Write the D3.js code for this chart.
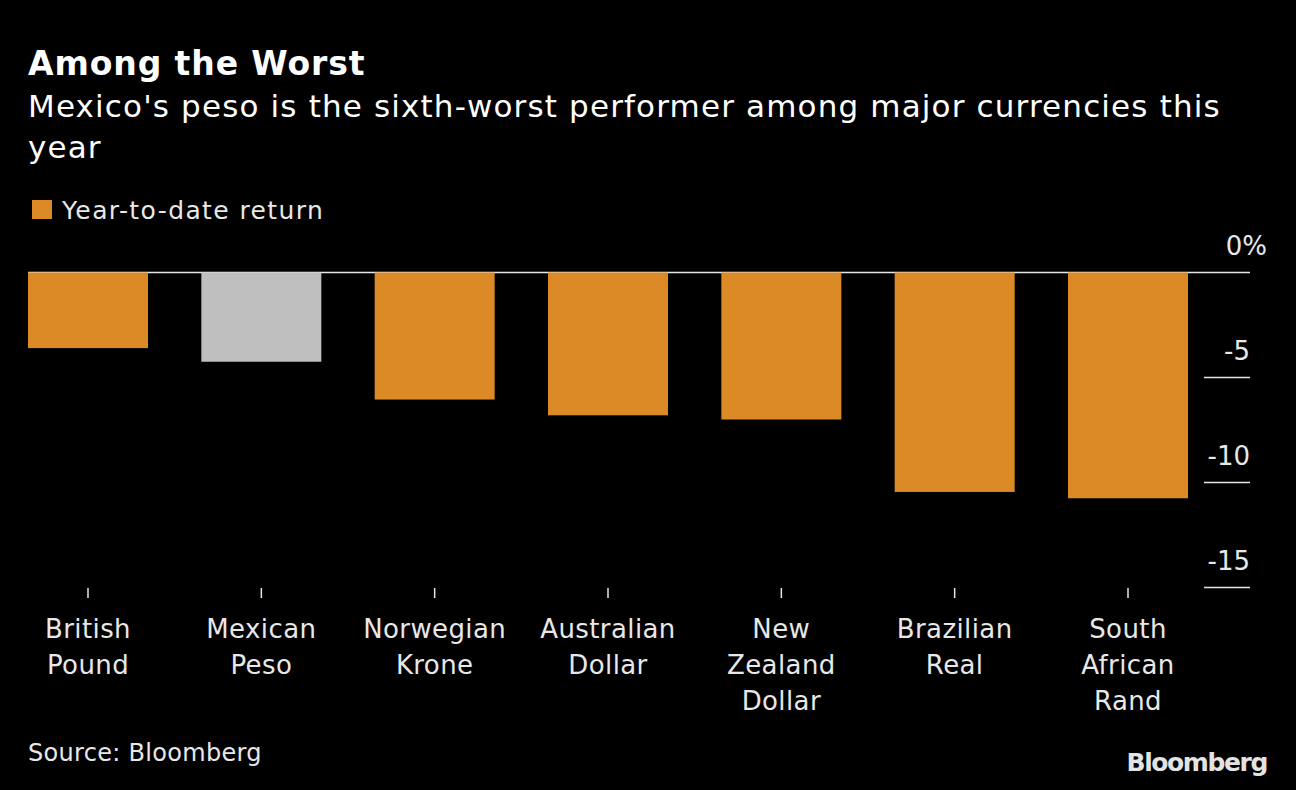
<!DOCTYPE html>
<html>
<head>
<meta charset="utf-8">
<script src="https://cdn.jsdelivr.net/npm/d3@7"></script>
<style>
  html, body { margin: 0; padding: 0; background: #000; }
  svg { display: block; }
  text { font-family: "DejaVu Sans", Verdana, sans-serif; }
</style>
</head>
<body>
<svg id="chart" width="1296" height="790"></svg>
<script>
const categories = [
  ["British", "Pound"],
  ["Mexican", "Peso"],
  ["Norwegian", "Krone"],
  ["Australian", "Dollar"],
  ["New", "Zealand", "Dollar"],
  ["Brazilian", "Real"],
  ["South", "African", "Rand"]
];
const values = [-3.6, -4.25, -6.05, -6.8, -7.0, -10.45, -10.75];
const highlight = [false, true, false, false, false, false, false];
const yTicks = [0, -5, -10, -15];
const legendLabel = "Year-to-date return";

const svg = d3.select("#chart");
const W = 1296, H = 790;
svg.append("rect").attr("width", W).attr("height", H).attr("fill", "#000");

const orange = "#dc8a25", gray = "#bfbfbf", txt = "#e8e8e8";

// Titles
svg.append("text").attr("x", 28).attr("y", 75)
  .attr("font-size", 33).attr("font-weight", "bold").attr("fill", "#fff")
  .attr("letter-spacing", 0.9)
  .text("Among the Worst");
svg.append("text").attr("x", 28).attr("y", 117)
  .attr("font-size", 31).attr("fill", "#fff").attr("letter-spacing", 1.15)
  .text("Mexico's peso is the sixth-worst performer among major currencies this");
svg.append("text").attr("x", 28).attr("y", 158)
  .attr("font-size", 31).attr("fill", "#fff").attr("letter-spacing", 1.15)
  .text("year");

// Legend
svg.append("rect").attr("x", 32).attr("y", 200).attr("width", 20).attr("height", 19).attr("fill", orange);
svg.append("text").attr("x", 62).attr("y", 219)
  .attr("font-size", 25).attr("fill", txt).attr("letter-spacing", 1.4).text(legendLabel);

// Scales
const idx = d3.range(categories.length);
const x = d3.scaleBand().domain(idx).range([28, 1188]).paddingInner(0.3077).paddingOuter(0);
const y = d3.scaleLinear().domain([0, -15]).range([272.5, 587.5]);

// Zero line and right-side tick marks
const tickG = svg.append("g");
yTicks.forEach(t => {
  const yy = y(t);
  tickG.append("line")
    .attr("x1", t === 0 ? 28 : 1204).attr("x2", 1250)
    .attr("y1", yy).attr("y2", yy)
    .attr("stroke", "#e6e6e6").attr("stroke-width", 1.5);
});

// Bars
svg.append("g").selectAll("rect").data(values).join("rect")
  .attr("x", (d, i) => x(i))
  .attr("width", x.bandwidth())
  .attr("y", d => y(0))
  .attr("height", d => y(d) - y(0))
  .attr("fill", (d, i) => highlight[i] ? gray : orange);

// Tick labels
yTicks.forEach(t => {
  const yy = y(t) - 18;
  svg.append("text").attr("x", t === 0 ? 1267 : 1250).attr("y", yy)
    .attr("font-size", 26).attr("fill", txt)
    .attr("text-anchor", "end").text(t === 0 ? "0%" : t);
});

// X axis ticks & labels
const xa = svg.append("g");
idx.forEach(i => {
  const cx = x(i) + x.bandwidth() / 2;
  xa.append("line").attr("x1", cx).attr("x2", cx).attr("y1", 588).attr("y2", 598)
    .attr("stroke", "#e6e6e6").attr("stroke-width", 1.5);
  const t = xa.append("text").attr("x", cx).attr("y", 638).attr("text-anchor", "middle")
    .attr("font-size", 26).attr("fill", txt).attr("letter-spacing", 0.4);
  categories[i].forEach((line, k) => {
    t.append("tspan").attr("x", cx).attr("y", 638 + k * 36).text(line);
  });
});

// Source
svg.append("text").attr("x", 28).attr("y", 761).attr("font-size", 24).attr("fill", txt)
  .attr("letter-spacing", 0.3)
  .text("Source: Bloomberg");

// Logo
svg.append("text").attr("x", 1267).attr("y", 771).attr("text-anchor", "end")
  .attr("font-family", "Liberation Sans, Arial, sans-serif")
  .attr("font-size", 25).attr("font-weight", "bold").attr("fill", "#e3e3e3")
  .attr("letter-spacing", -1.4)
  .text("Bloomberg");
</script>
</body>
</html>
